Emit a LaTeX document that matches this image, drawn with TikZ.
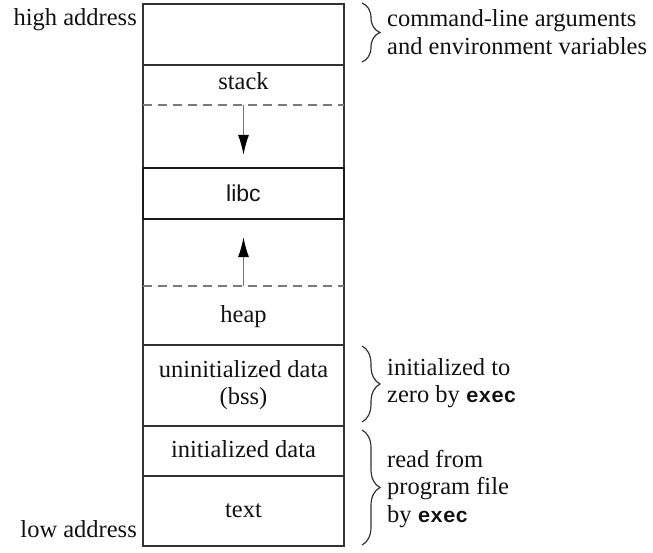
\documentclass[tikz,border=0pt]{standalone}
\usepackage{fontspec}
\setmainfont{Liberation Serif}
\setsansfont{Liberation Sans}
\setmonofont{Liberation Mono}
\usetikzlibrary{arrows.meta,decorations.pathreplacing}
\definecolor{linec}{HTML}{333333}
\definecolor{dashc}{HTML}{7A7A7A}
\definecolor{txtc}{HTML}{111111}
\newcommand{\mylines}[2]{\begin{tabular}[t]{@{}#1@{}}#2\end{tabular}}
\newcommand{\execw}{{\fontsize{21}{27.5}\selectfont\ttfamily\bfseries exec}}
\begin{document}
\begin{tikzpicture}[x=1pt,y=-1pt,
  font=\fontsize{24.5}{27.5}\selectfont, text=txtc,
  seg/.style={draw=linec, line width=1.5pt, minimum width=201pt, inner sep=0pt},
  libcbox/.style={draw=black!90, line width=2.2pt, minimum width=201pt, inner sep=0pt, fill=white, font=\fontsize{23}{27.5}\selectfont\sffamily},
  lbl/.style={inner sep=0pt, anchor=base},
  side/.style={inner sep=0pt, anchor=base west},
  addr/.style={inner sep=0pt, anchor=base east},
  dashline/.style={draw=dashc, line width=1.6pt, dash pattern=on 9pt off 6pt},
  arr/.style={draw=black!55, line width=1.4pt, -{Latex[length=20pt,width=11pt,color=black]}},
  bracestyle/.style={draw=linec, line width=1.2pt, decorate, decoration={brace, amplitude=18pt}}]
\useasboundingbox (0,0) rectangle (653,553);

% segments
\node[seg, minimum height=61pt] (args) at (243.5,34.5) {};
\node[seg, minimum height=280pt] (dyn) at (243.5,205) {};
\node[seg, minimum height=81pt] (bss) at (243.5,385.5) {};
\node[seg, minimum height=50pt] (idata) at (243.5,451) {};
\node[seg, minimum height=70pt] (textseg) at (243.5,511) {};

% dashed boundaries
\coordinate (d1l) at (143,105);
\coordinate (d1r) at (344,105);
\coordinate (d2l) at (143,286);
\coordinate (d2r) at (344,286);
\draw[dashline] (d1l) -- (d1r);
\draw[dashline] (d2l) -- (d2r);

% libc
\node[libcbox, minimum height=51pt] (libc) at (243.5,193.5) {libc};

% arrows
\coordinate (sa) at (243.5,105);
\coordinate (ha) at (243.5,286);
\draw[arr, shorten >=12pt] (sa) -- (libc.north);
\draw[arr, shorten >=17pt] (ha) -- (libc.south);

% labels in boxes
\node[lbl] (stack) at (243.5,90) {stack};
\node[lbl] (heap) at (243.5,322) {heap};
\node[lbl] (bsst) at (243.5,377) {\mylines{c}{uninitialized data\\(bss)}};
\node[lbl] (idatat) at (243.5,457) {initialized data};
\node[lbl] (textt) at (243.5,517) {text};

% addresses
\node[addr] (high) at (137,26) {high address};
\node[addr] (low) at (137,537) {low address};

% braces
\coordinate (b1a) at (362,3);
\coordinate (b1b) at (362,62);
\coordinate (b2a) at (362,346);
\coordinate (b2b) at (362,422);
\coordinate (b3a) at (362,430);
\coordinate (b3b) at (362,545);
\draw[bracestyle] (b1a) -- (b1b);
\draw[bracestyle] (b2a) -- (b2b);
\draw[bracestyle] (b3a) -- (b3b);

% side notes
\node[side] (n1) at (387,27) {\mylines{l}{command-line arguments\\and environment variables}};
\node[side] (n2) at (387,375) {\mylines{l}{initialized to\\zero by \execw}};
\node[side] (n3) at (387,467) {\mylines{l}{read from\\program file\\by \execw}};
\end{tikzpicture}
\end{document}
